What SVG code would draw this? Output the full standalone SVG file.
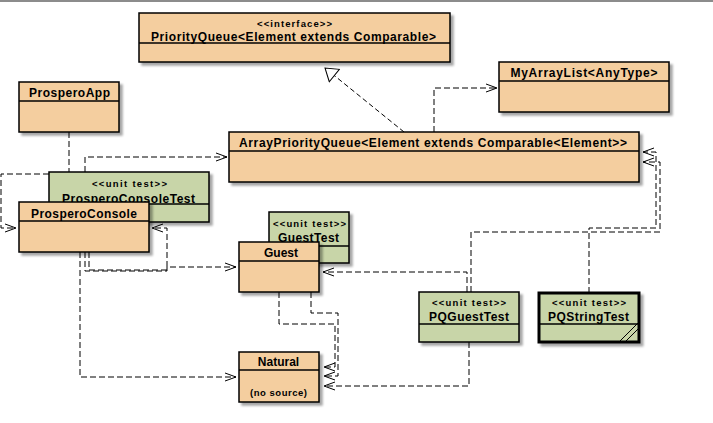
<svg xmlns="http://www.w3.org/2000/svg" width="713" height="423" viewBox="0 0 713 423">
<defs>
<filter id="sh" x="-5%" y="-5%" width="115%" height="130%"><feDropShadow dx="3" dy="3" stdDeviation="1" flood-color="#000" flood-opacity="0.35"/></filter>
<marker id="open" markerUnits="userSpaceOnUse" markerWidth="14" markerHeight="12" refX="11" refY="4" orient="auto" viewBox="-1 -2 14 12"><path d="M0,0 L11,4 L0,8" fill="none" stroke="#000" stroke-width="1"/></marker>
<marker id="tri" markerUnits="userSpaceOnUse" markerWidth="16" markerHeight="20" refX="12" refY="8" orient="auto" viewBox="-1 -1 16 20"><path d="M0,0 L12,8 L0,16 Z" fill="#fff" stroke="#000" stroke-width="1"/></marker>
<style>
.b{fill:#F4CE9F;stroke:#000;stroke-width:1.5;filter:url(#sh)}
.g{fill:#C8D5A8;stroke:#000;stroke-width:1.5;filter:url(#sh)}
.d{stroke:#000;stroke-width:1.5}
.c{fill:none;stroke:#000;stroke-width:1;stroke-dasharray:6 3;marker-end:url(#open)}
.r{fill:none;stroke:#000;stroke-width:1;stroke-dasharray:5 3;marker-end:url(#tri)}
.n{font-family:"Liberation Sans",Arial,sans-serif;font-weight:bold;font-size:12px;text-anchor:middle;fill:#000}
.s{font-family:"Liberation Sans",Arial,sans-serif;font-weight:bold;font-size:9.5px;text-anchor:middle;fill:#000}
</style>
</defs>
<rect x="0" y="0" width="713" height="2" fill="#8c8c8c"/>
<g id="connectors">
<path class="r" d="M404,132 L325,68"/>
<path class="c" d="M434,132 V88 H497"/>
<path class="c" d="M69,132 V201"/>
<path class="c" d="M85,172 V157 H227"/>
<path class="c" d="M49,174 H1 V228 H16"/>
<path class="c" d="M80,252 V377 H236"/>
<path class="c" d="M85,252 V271 H167 V267 H236"/>
<path class="c" d="M89,252 V270 H167 V228 H152"/>
<path class="c" d="M467,292 V272 H323"/>
<path class="c" d="M471,292 V232 H660 V162 H643"/>
<path class="c" d="M589,293 V228 H656 V152 H643"/>
<path class="c" d="M279,292 V324 H335 V367 H324"/>
<path class="c" d="M311,292 V313 H338 V376 H324"/>
<path class="c" d="M469,342 V386 H324"/>
</g>
<g id="PriorityQueue">
<rect class="b" x="139" y="13" width="311" height="49"/>
<line class="d" x1="139" y1="43" x2="450" y2="43"/>
<text class="s" x="294.5" y="26.5" textLength="75" lengthAdjust="spacing">&lt;&lt;interface&gt;&gt;</text>
<text class="n" x="293.5" y="41" textLength="285" lengthAdjust="spacing">PriorityQueue&lt;Element extends Comparable&gt;</text>
</g>
<g id="MyArrayList">
<rect class="b" x="499" y="62" width="170" height="50"/>
<line class="d" x1="499" y1="81" x2="669" y2="81"/>
<text class="n" x="584" y="77" textLength="147" lengthAdjust="spacing">MyArrayList&lt;AnyType&gt;</text>
</g>
<g id="ProsperoApp">
<rect class="b" x="19" y="82" width="100" height="50"/>
<line class="d" x1="19" y1="101" x2="119" y2="101"/>
<text class="n" x="69.5" y="97" textLength="81" lengthAdjust="spacing">ProsperoApp</text>
</g>
<g id="ArrayPriorityQueue">
<rect class="b" x="229" y="132" width="410" height="50"/>
<line class="d" x1="229" y1="151" x2="639" y2="151"/>
<text class="n" x="433" y="147" textLength="388" lengthAdjust="spacing">ArrayPriorityQueue&lt;Element extends Comparable&lt;Element&gt;&gt;</text>
</g>
<g id="ProsperoConsoleTest">
<rect class="g" x="49" y="172" width="160" height="50"/>
<line class="d" x1="49" y1="204" x2="209" y2="204"/>
<text class="s" x="129.5" y="186.5" textLength="75" lengthAdjust="spacing">&lt;&lt;unit test&gt;&gt;</text>
<text class="n" x="128.5" y="202.5" textLength="133" lengthAdjust="spacing">ProsperoConsoleTest</text>
</g>
<g id="ProsperoConsole">
<rect class="b" x="19" y="202" width="130" height="50"/>
<line class="d" x1="19" y1="221" x2="149" y2="221"/>
<text class="n" x="84" y="217.5" textLength="106" lengthAdjust="spacing">ProsperoConsole</text>
</g>
<g id="GuestTest">
<rect class="g" x="269" y="212" width="80" height="51"/>
<line class="d" x1="269" y1="246" x2="349" y2="246"/>
<text class="s" x="309.5" y="226.5" textLength="73" lengthAdjust="spacing">&lt;&lt;unit test&gt;&gt;</text>
<text class="n" x="308.5" y="242" textLength="61" lengthAdjust="spacing">GuestTest</text>
</g>
<g id="Guest">
<rect class="b" x="239" y="242" width="80" height="50"/>
<line class="d" x1="239" y1="261" x2="319" y2="261"/>
<text class="n" x="281" y="257">Guest</text>
</g>
<g id="PQGuestTest">
<rect class="g" x="419" y="292" width="100" height="50"/>
<line class="d" x1="419" y1="324" x2="519" y2="324"/>
<text class="s" x="469" y="306" textLength="74" lengthAdjust="spacing">&lt;&lt;unit test&gt;&gt;</text>
<text class="n" x="469" y="321" textLength="80" lengthAdjust="spacing">PQGuestTest</text>
</g>
<g id="PQStringTest">
<rect class="g" x="539" y="293" width="100" height="49" style="stroke-width:3"/>
<line class="d" x1="539" y1="324" x2="639" y2="324"/>
<line x1="619" y1="342" x2="639" y2="322" stroke="#000" stroke-width="1"/>
<line x1="625" y1="342" x2="639" y2="328" stroke="#000" stroke-width="1"/>
<text class="s" x="589" y="306" textLength="74" lengthAdjust="spacing">&lt;&lt;unit test&gt;&gt;</text>
<text class="n" x="588.5" y="321" textLength="81" lengthAdjust="spacing">PQStringTest</text>
</g>
<g id="Natural">
<rect class="b" x="239" y="352" width="80" height="50"/>
<line class="d" x1="239" y1="370" x2="319" y2="370"/>
<text class="n" x="278.5" y="366">Natural</text>
<text class="s" x="278.5" y="395.5" font-size="10" textLength="57" lengthAdjust="spacing">(no source)</text>
</g>
</svg>
